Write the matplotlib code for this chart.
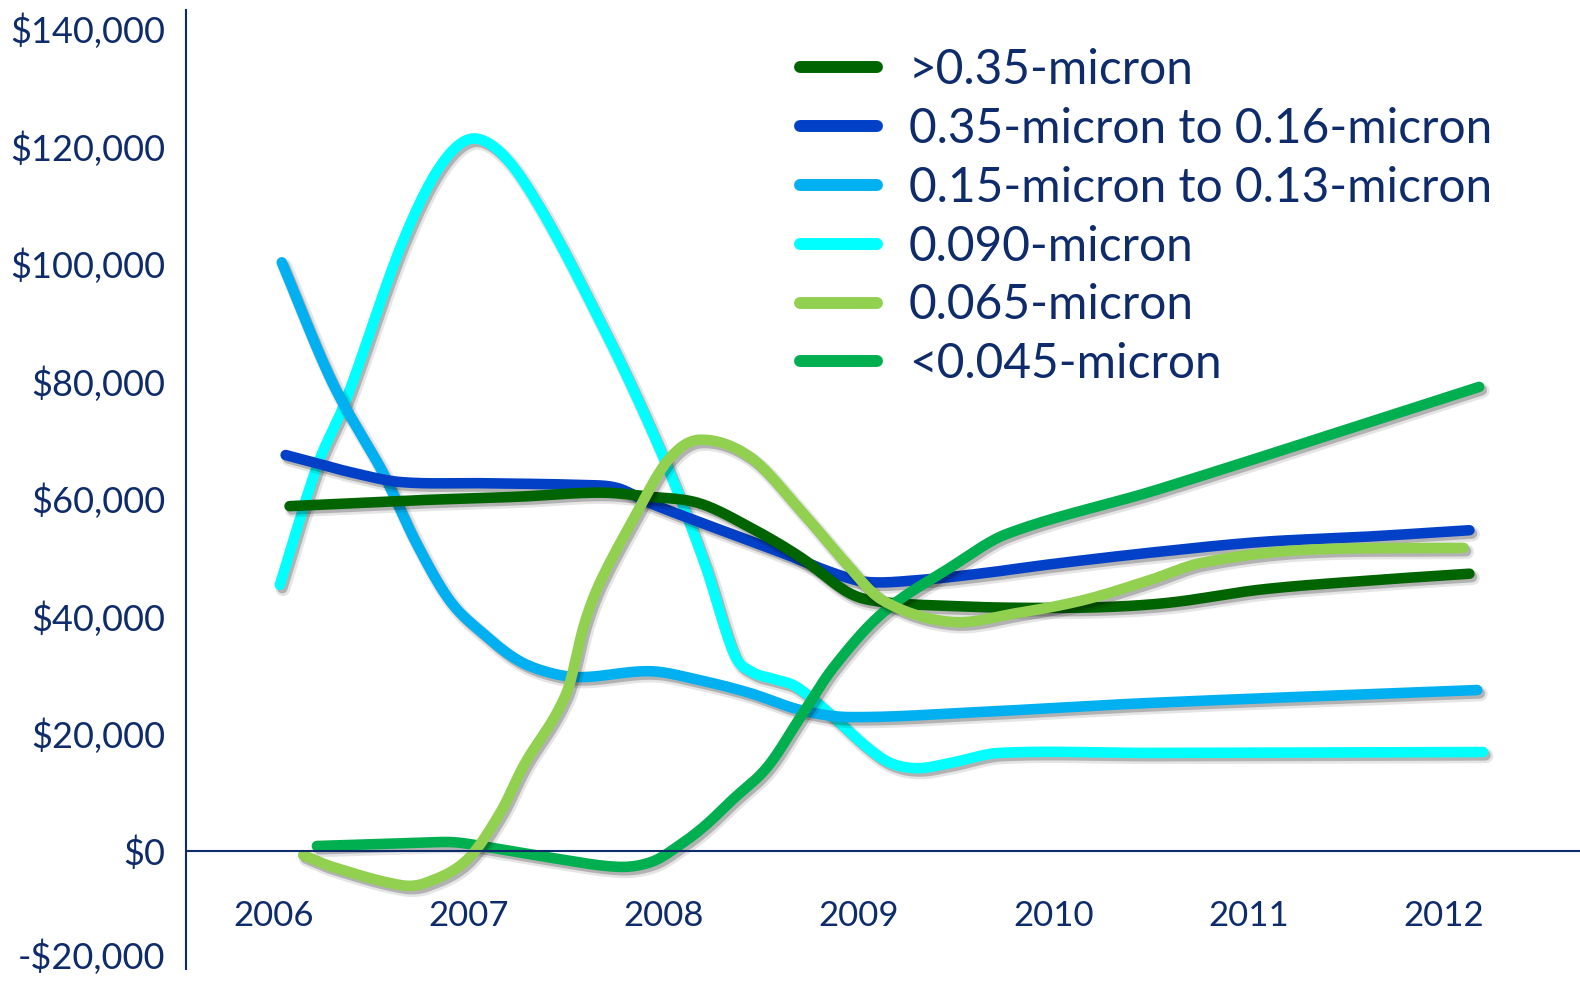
import numpy as np
import matplotlib
matplotlib.use("Agg")
import matplotlib.pyplot as plt
from matplotlib.lines import Line2D
import matplotlib.patheffects as pe

# ---- data (fractional year, value in $) ----
years = [2006, 2007, 2008, 2009, 2010, 2011, 2012]
y_ticks = [-20000, 0, 20000, 40000, 60000, 80000, 100000, 120000, 140000]

labels = [">0.35-micron", "0.35-micron to 0.16-micron", "0.15-micron to 0.13-micron",
          "0.090-micron", "0.065-micron", "<0.045-micron"]
colors = ["#006400", "#0340C8", "#00B0F0", "#00FFFF", "#92D050", "#00B050"]

x_gt035 = [2006.08, 2006.73, 2007.25, 2007.67, 2007.93, 2008.18, 2008.44, 2008.70,
           2008.95, 2009.12, 2009.47, 2009.81, 2010.24, 2010.60, 2011.06, 2011.60, 2012.13]
y_gt035 = [58700, 59700, 60300, 61000, 60300, 59200, 55100, 50000,
           43900, 42400, 41700, 41400, 41500, 42300, 44500, 46000, 47200]

x_035_016 = [2006.06, 2006.22, 2006.39, 2006.65, 2007.07, 2007.58, 2007.76, 2007.93,
             2008.27, 2008.61, 2008.87, 2009.04, 2009.30, 2009.64, 2009.98, 2010.50,
             2011.06, 2011.60, 2012.13]
y_035_016 = [67400, 66000, 64500, 62800, 62600, 62300, 61800, 59200,
             54900, 50700, 47300, 45800, 46100, 47300, 48800, 50800,
             52600, 53500, 54600]

x_015_013 = [2006.04, 2006.30, 2006.56, 2006.73, 2006.90, 2007.07, 2007.25, 2007.42,
             2007.58, 2007.93, 2008.18, 2008.44, 2008.70, 2008.95, 2009.64, 2010.49, 2012.17]
y_015_013 = [100200, 79700, 64300, 52400, 42700, 37100, 32500, 30300,
             29600, 30600, 29100, 26900, 24000, 22800, 23700, 25200, 27400]

x_090 = [2006.03, 2006.22, 2006.37, 2006.66, 2006.87, 2007.05, 2007.28, 2007.70,
         2008.01, 2008.21, 2008.36, 2008.45, 2008.55, 2008.66, 2008.75,
         2008.87, 2009.04, 2009.16, 2009.30, 2009.47, 2009.72, 2010.49, 2012.20]
y_090 = [45300, 65400, 76800, 103700, 117400, 121200, 114000, 88300,
         66000, 48800, 33500, 30500, 29400, 28300, 26200,
         22800, 17700, 15000, 14100, 15000, 16700, 16700, 16850]

x_065 = [2006.15, 2006.30, 2006.65, 2006.78, 2006.99, 2007.16, 2007.28, 2007.50,
         2007.59, 2007.67, 2007.84, 2008.02, 2008.18, 2008.44, 2008.70, 2008.92,
         2009.12, 2009.47, 2009.81, 2010.15, 2010.49, 2010.75, 2011.26, 2012.10]
y_065 = [-700, -2700, -5800, -5400, -1500, 6500, 14500, 26900,
         38500, 45600, 56300, 66500, 70000, 67100, 58000, 49500,
         42700, 39000, 40500, 42700, 46100, 49000, 51200, 51600]

x_lt045 = [2006.22, 2006.75, 2006.92, 2007.09, 2007.43, 2007.77, 2007.94, 2008.08,
           2008.21, 2008.35, 2008.53, 2008.70, 2008.87, 2009.12, 2009.47, 2009.76,
           2010.54, 2012.18]
y_lt045 = [850, 1400, 1500, 700, -1200, -2700, -1800, 1000,
           4300, 8700, 14300, 22800, 31300, 40500, 48300, 54000,
           61600, 79000]

series = [
    (x_gt035, y_gt035),
    (x_035_016, y_035_016),
    (x_015_013, y_015_013),
    (x_090, y_090),
    (x_065, y_065),
    (x_lt045, y_lt045),
]
# stacking order of the curves (higher draws on top)
z_orders = [4, 3, 2.5, 2, 6, 5]


def smooth(xs, ys, n=40):
    """Cubic Hermite curve through the points, tangents from neighbours."""
    xs = np.asarray(xs, float)
    ys = np.asarray(ys, float)
    m = np.zeros_like(ys)
    m[1:-1] = (ys[2:] - ys[:-2]) / (xs[2:] - xs[:-2])
    m[0] = (ys[1] - ys[0]) / (xs[1] - xs[0])
    m[-1] = (ys[-1] - ys[-2]) / (xs[-1] - xs[-2])
    out_x, out_y = [], []
    for i in range(len(xs) - 1):
        h = xs[i + 1] - xs[i]
        t = np.linspace(0, 1, n, endpoint=False)
        h00 = 2 * t**3 - 3 * t**2 + 1
        h10 = t**3 - 2 * t**2 + t
        h01 = -2 * t**3 + 3 * t**2
        h11 = t**3 - t**2
        out_x.append(xs[i] + t * h)
        out_y.append(h00 * ys[i] + h10 * h * m[i] + h01 * ys[i + 1] + h11 * h * m[i + 1])
    out_x.append([xs[-1]])
    out_y.append([ys[-1]])
    return np.concatenate(out_x), np.concatenate(out_y)


navy = "#0E2C6C"
font = "Lato"

fig = plt.figure(figsize=(15.8, 9.84), dpi=100)
ax = fig.add_axes([186 / 1580, 15.5 / 984, 1 - 186 / 1580, (968.5 - 10) / 984])

lw = 7.6
shadow = [
    pe.SimpleLineShadow(offset=(2.2, -2.8), shadow_color="black", alpha=0.10, linewidth=lw + 3.0),
    pe.SimpleLineShadow(offset=(1.8, -2.4), shadow_color="black", alpha=0.22, linewidth=lw),
    pe.Normal(),
]

for (xs, ys), c, z in zip(series, colors, z_orders):
    sx, sy = smooth(xs, ys)
    ax.plot(sx, sy, color=c, lw=lw, solid_capstyle="round", solid_joinstyle="round",
            zorder=z, path_effects=shadow)

ax.axhline(0, color=navy, lw=1.5, zorder=10)

ax.set_xlim(2005.549, 2012.697)
ax.set_ylim(-20000, 143150)

for s in ("top", "right", "bottom"):
    ax.spines[s].set_visible(False)
ax.spines["left"].set_color(navy)
ax.spines["left"].set_linewidth(1.5)

ax.set_yticks(y_ticks)
ax.set_yticklabels([("-$" if v < 0 else "$") + f"{abs(v):,}" for v in y_ticks])
ax.set_xticks(years)
ax.set_xticklabels([str(y) for y in years])
ax.tick_params(axis="y", length=0, pad=15, labelsize=26, labelcolor=navy)
ax.tick_params(axis="x", length=0, pad=-49, labelsize=25, labelcolor=navy)
for t in ax.get_xticklabels() + ax.get_yticklabels():
    t.set_fontfamily(font)
# the lowest value label sits on its baseline so it stays inside the canvas
ax.get_yticklabels()[0].set_verticalalignment("baseline")

handles = [Line2D([], [], color=c, lw=8.6, solid_capstyle="round") for c in colors]
leg = ax.legend(handles, labels, loc="upper left",
                bbox_to_anchor=(800 / 1580, 1 - 48 / 984), bbox_transform=fig.transFigure,
                frameon=False, borderpad=0, borderaxespad=0, labelspacing=0.31,
                handlelength=1.6, handletextpad=0.67,
                prop={"family": font, "size": 34.5}, labelcolor=navy)

fig.savefig("out.png", dpi=100, facecolor="white")
